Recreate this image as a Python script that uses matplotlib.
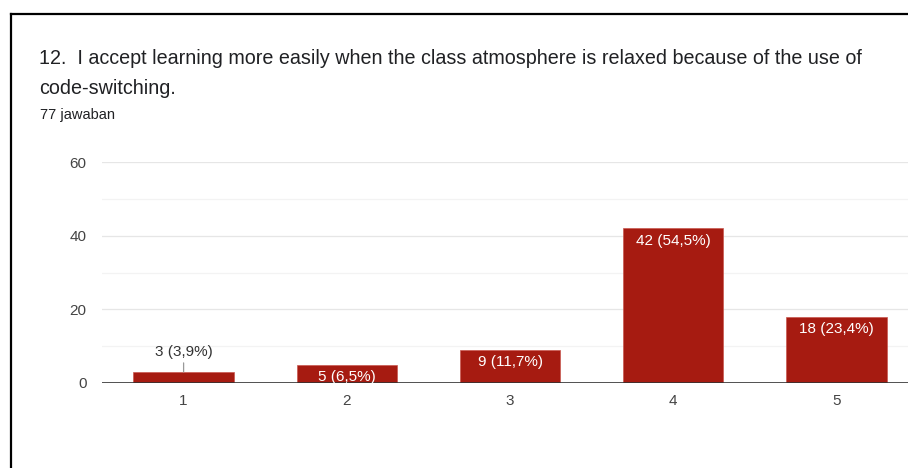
import matplotlib
matplotlib.use("Agg")
import matplotlib.pyplot as plt
from matplotlib.lines import Line2D

categories = ["1", "2", "3", "4", "5"]
counts = [3, 5, 9, 42, 18]
labels = ["3 (3,9%)", "5 (6,5%)", "9 (11,7%)", "42 (54,5%)", "18 (23,4%)"]
yticks = [0, 20, 40, 60]
title_lines = ["12.  I accept learning more easily when the class atmosphere is relaxed because of the use of",
               "code-switching."]
subtitle = "77 jawaban"

plt.rcParams['font.family'] = ['Liberation Sans', 'DejaVu Sans']

W, H = 908, 468
fig = plt.figure(figsize=(W / 100, H / 100), dpi=100)
fig.patch.set_facecolor("white")

# border
fig.add_artist(Line2D([11 / W, 11 / W], [0, 1 - 14 / H], color="black", lw=1.6, transform=fig.transFigure))
fig.add_artist(Line2D([11 / W, 1], [1 - 14 / H, 1 - 14 / H], color="black", lw=1.6, transform=fig.transFigure))

fig.text(39 / W, 1 - 58 / H, title_lines[0], fontsize=14.2, color="#202124", va="center", ha="left")
fig.text(39 / W, 1 - 88 / H, title_lines[1], fontsize=14.2, color="#202124", va="center", ha="left")
fig.text(40 / W, 1 - 115 / H, subtitle, fontsize=10.5, color="#202124", va="center", ha="left")

left, right = 102, 918
bottom, top = 383, 162
ax = fig.add_axes([left / W, 1 - bottom / H, (right - left) / W, (bottom - top) / H])
ax.set_xlim(0.5, 5.5)
ax.set_ylim(0, 60)

x = list(range(1, len(categories) + 1))
for v in [10, 30, 50]:
    ax.axhline(v, color="#f3f3f3", lw=0.9, zorder=0)
for v in [20, 40, 60]:
    ax.axhline(v, color="#e6e6e6", lw=0.9, zorder=0)

ax.bar(x, counts, width=0.615, color="#a61b11", edgecolor="#c9584f", linewidth=0.5, zorder=2)
ax.axhline(0, color="#333333", lw=1.2, zorder=3)

for xi, c, lab in zip(x, counts, labels):
    if c <= 3:
        ax.annotate(lab, xy=(xi, c), xytext=(xi, c + 5.3), ha="center", va="center",
                    fontsize=11, color="#333333",
                    arrowprops=dict(arrowstyle="-", color="#999999", lw=0.9, shrinkA=0.5, shrinkB=0))
    else:
        ax.annotate(lab, xy=(xi, c), xytext=(0, -9), textcoords="offset points",
                    ha="center", va="center", fontsize=11, color="white", zorder=4)

ax.set_xticks(x)
ax.set_xticklabels(categories)
ax.set_yticks(yticks)
ax.tick_params(axis="both", length=0, labelsize=11, colors="#444444")
ax.tick_params(axis="x", pad=8)
ax.tick_params(axis="y", pad=11)
for s in ax.spines.values():
    s.set_visible(False)
ax.set_facecolor("white")

fig.savefig("out.png", dpi=100, facecolor="white")
